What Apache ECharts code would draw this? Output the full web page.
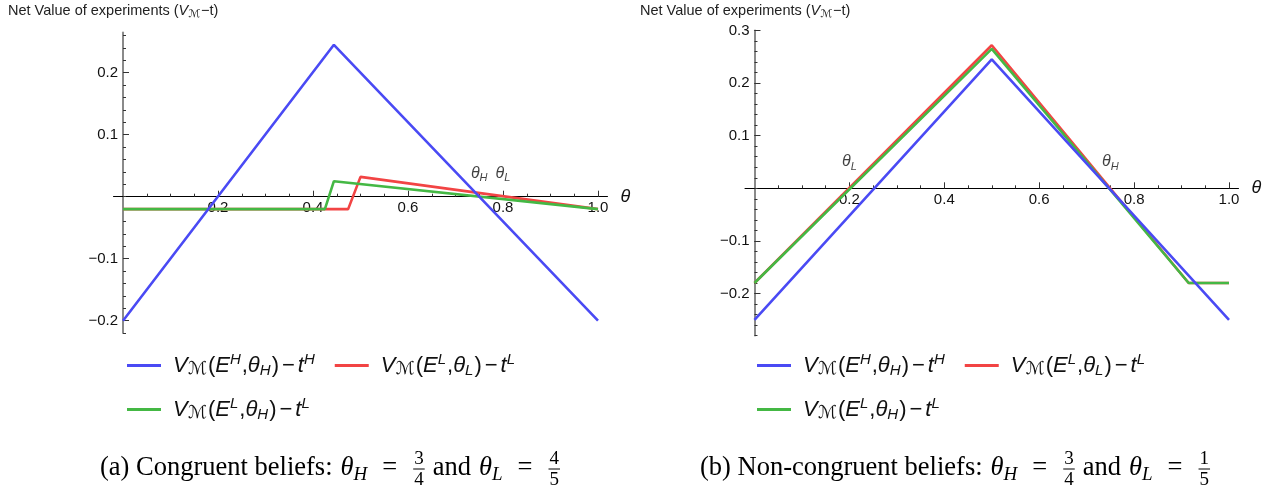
<!DOCTYPE html>
<html>
<head>
<meta charset="utf-8">
<script src="https://cdn.jsdelivr.net/npm/echarts@6/dist/echarts.min.js"></script>
<style>
  html, body { margin: 0; padding: 0; background: #fff; }
  #container { width: 1278px; height: 496px; }
</style>
</head>
<body>
<div id="container"></div>
<script>
// ---- data: [theta, net value] ----
// (a) congruent beliefs
var blueA = [[0, -0.2], [0.444, 0.245], [1.0, -0.2]];
var redA = [[0, -0.02], [0.474, -0.02], [0.5, 0.032], [1.0, -0.02]];
var greenA = [[0, -0.02], [0.425, -0.02], [0.444, 0.025], [1.0, -0.02]];
// (b) non-congruent beliefs
var blueB = [[0, -0.25], [0.5, 0.245], [1.0, -0.25]];
var redB = [[0, -0.18], [0.5, 0.272], [0.915, -0.18], [1.0, -0.18]];
var greenB = [[0, -0.18], [0.5, 0.265], [0.915, -0.18], [1.0, -0.18]];

// theta_H / theta_L markers on the plots
var marksA = [[0.75, 0.038, 'H'], [0.8, 0.038, 'L']];
var marksB = [[0.2, 0.05, 'L'], [0.75, 0.05, 'H']];

// tick labels
var xTicks = [0.2, 0.4, 0.6, 0.8, 1.0];
var yTicksA = [-0.2, -0.1, 0.1, 0.2];
var yTicksB = [-0.2, -0.1, 0.1, 0.2, 0.3];

var SANS = '"Liberation Sans", Arial, sans-serif';
var SERIF = '"Liberation Serif", "Times New Roman", serif';
var BLUE = '#4a4af4', RED = '#f24444', GREEN = '#44b844';

// plot boxes (pixels per unit, value ranges)
var X_MIN = -0.02, X_MAX = 1.02;
var boxA = { left: 113.5, width: 494, zeroY: 196.7, pxY: 620, yMin: -0.22, yMax: 0.265 };
var boxB = { left: 745, width: 493.5, zeroY: 188.3, pxY: 526, yMin: -0.28, yMax: 0.3 };

function stepTicks(from, to, step) {
  var out = [];
  for (var k = Math.ceil(from / step - 1e-9); k * step <= to + 1e-9; k++) {
    out.push(+(k * step).toFixed(4));
  }
  return out;
}

function fmtTick(v) {
  var s = Math.abs(v).toFixed(1);
  return v < 0 ? '\u2212' + s : s;
}

var dom = document.getElementById('container');
var myChart = echarts.init(dom);

function mathRich(size, small) {
  var base = { fontFamily: SANS, fontSize: size, lineHeight: 26, color: '#111', fontWeight: 'normal' };
  function st(o) { return Object.assign({}, base, o); }
  return {
    v: st({ fontStyle: 'italic' }),
    v0: st({ fontStyle: 'italic', padding: [0, 0, 0, 7] }),
    r: st({}),
    m: st({ padding: [0, 3, 0, 3] }),
    sup: st({ fontStyle: 'italic', fontSize: small, lineHeight: 14, padding: [0, 1, 12, 0] }),
    sub: st({ fontStyle: 'italic', fontSize: small, lineHeight: 14, padding: [10, 1, 0, 0] }),
    scr: st({ fontFamily: '"DejaVu Sans", sans-serif', fontSize: 18, lineHeight: 18, padding: [8, 1, 0, 0] })
  };
}

var legendText = {
  blueH: '{v0|V}{scr|\u2133}{r|(}{v|E}{sup|H}{r|,}{v|\u03b8}{sub|H}{r|)}{m|\u2212}{v|t}{sup|H}',
  redL: '{v0|V}{scr|\u2133}{r|(}{v|E}{sup|L}{r|,}{v|\u03b8}{sub|L}{r|)}{m|\u2212}{v|t}{sup|L}',
  greenH: '{v0|V}{scr|\u2133}{r|(}{v|E}{sup|L}{r|,}{v|\u03b8}{sub|H}{r|)}{m|\u2212}{v|t}{sup|L}'
};

function makeLegend(left, top, names) {
  return {
    left: left, top: top, orient: 'horizontal', icon: 'rect',
    itemWidth: 34, itemHeight: 3, itemGap: 19, padding: 0,
    data: names, selectedMode: false,
    formatter: function (n) { return legendText[n]; },
    textStyle: { rich: mathRich(22, 15) }
  };
}

// axes are shifted onto the zero lines with offsets so labels follow them
function xAxes(grid, box) {
  var off = -(0 - box.yMin) * box.pxY;
  return [{
    gridIndex: grid, type: 'value', min: X_MIN, max: X_MAX, position: 'bottom', offset: off,
    axisLine: { onZero: false, lineStyle: { color: '#000', width: 1 } },
    axisTick: { customValues: xTicks, inside: true, length: 6, lineStyle: { color: '#333' } },
    axisLabel: { customValues: xTicks, formatter: fmtTick, margin: 4, fontFamily: SANS, fontSize: 15, color: '#111' },
    splitLine: { show: false },
    name: '\u03b8', nameLocation: 'end', nameGap: 13,
    nameTextStyle: { fontFamily: SANS, fontStyle: 'italic', fontSize: 18, color: '#111' }
  }, {
    gridIndex: grid, type: 'value', min: X_MIN, max: X_MAX, position: 'bottom', offset: off,
    axisLine: { show: false, onZero: false },
    axisTick: { customValues: stepTicks(0.05, 1.0, 0.05), inside: true, length: 3, lineStyle: { color: '#333' } },
    axisLabel: { show: false },
    splitLine: { show: false }
  }];
}

function yAxes(grid, box, major) {
  var off = -(0 - X_MIN) * box.width / (X_MAX - X_MIN);
  return [{
    gridIndex: grid, type: 'value', min: box.yMin, max: box.yMax, position: 'left', offset: off,
    axisLine: { onZero: false, lineStyle: { color: '#8a8a8a', width: 2 } },
    axisTick: { customValues: major, inside: true, length: 6, lineStyle: { color: '#333' } },
    axisLabel: { customValues: major, formatter: fmtTick, margin: 5, fontFamily: SANS, fontSize: 15, color: '#111' },
    splitLine: { show: false }
  }, {
    gridIndex: grid, type: 'value', min: box.yMin, max: box.yMax, position: 'left', offset: off,
    axisLine: { show: false, onZero: false },
    axisTick: { customValues: stepTicks(box.yMin, box.yMax, 0.02), inside: true, length: 3, lineStyle: { color: '#333' } },
    axisLabel: { show: false },
    splitLine: { show: false }
  }];
}

function gridOf(box) {
  return {
    left: box.left, width: box.width,
    top: box.zeroY - box.yMax * box.pxY,
    height: (box.yMax - box.yMin) * box.pxY
  };
}

function lineSeries(name, color, data, ax) {
  return {
    type: 'line', name: name, data: data, xAxisIndex: ax, yAxisIndex: ax,
    showSymbol: false, symbol: 'none', silent: true, animation: false,
    lineStyle: { color: color, width: 2.6 }, itemStyle: { color: color }
  };
}

function markSeries(data, ax) {
  return {
    type: 'scatter', data: data, xAxisIndex: ax, yAxisIndex: ax,
    symbolSize: 1, itemStyle: { color: 'rgba(0,0,0,0)' }, silent: true, animation: false,
    label: {
      show: true, position: 'inside',
      formatter: function (p) { return '{t|\u03b8}{s|' + p.value[2] + '}'; },
      rich: {
        t: { fontFamily: SANS, fontStyle: 'italic', fontSize: 16, color: '#111', lineHeight: 20 },
        s: { fontFamily: SANS, fontStyle: 'italic', fontSize: 11, color: '#111', lineHeight: 11, padding: [9, 0, 0, 0] }
      }
    }
  };
}

// ---- captions (serif, with stacked fractions) ----
var capSize = 26.5;
var fracSize = 19;
var measureCtx = document.createElement('canvas').getContext('2d');
function measure(str, size, italic) {
  measureCtx.font = (italic ? 'italic ' : '') + size + 'px ' + SERIF;
  return measureCtx.measureText(str).width;
}
function txt(x, y, s, size, italic, align) {
  return {
    type: 'text', x: x, y: y, silent: true,
    style: {
      text: s, fontFamily: SERIF, fontSize: size, fontStyle: italic ? 'italic' : 'normal',
      fill: '#000', align: align || 'left', textAlign: align || 'left',
      verticalAlign: 'middle', textVerticalAlign: 'middle'
    }
  };
}
function caption(x, y, parts) {
  var els = [];
  parts.forEach(function (p) {
    if (p.gap) { x += p.gap; return; }
    if (p.rm != null) {
      els.push(txt(x, y, p.rm, capSize, false));
      x += measure(p.rm, capSize, false);
    } else if (p.it) {
      els.push(txt(x, y, p.it, capSize, true));
      x += measure(p.it, capSize, true);
      els.push(txt(x, y + 7, p.sub, 19, true));
      x += measure(p.sub, 19, true);
    } else if (p.num) {
      var w = Math.max(measure(p.num, fracSize), measure(p.den, fracSize)) + 2;
      els.push(txt(x + w / 2, y - 9, p.num, fracSize, false, 'center'));
      els.push({ type: 'line', silent: true, shape: { x1: x, y1: y + 1, x2: x + w, y2: y + 1 }, style: { stroke: '#000', lineWidth: 1 } });
      els.push(txt(x + w / 2, y + 12, p.den, fracSize, false, 'center'));
      x += w;
    }
  });
  return els;
}

var capA = caption(100, 468, [
  { rm: '(a) Congruent beliefs:' }, { gap: 8 }, { it: '\u03b8', sub: 'H' }, { gap: 15 },
  { rm: '=' }, { gap: 16 }, { num: '3', den: '4' }, { gap: 8 }, { rm: 'and' }, { gap: 8 },
  { it: '\u03b8', sub: 'L' }, { gap: 15 }, { rm: '=' }, { gap: 16 }, { num: '4', den: '5' }
]);
var capB = caption(700, 468, [
  { rm: '(b) Non-congruent beliefs:' }, { gap: 8 }, { it: '\u03b8', sub: 'H' }, { gap: 15 },
  { rm: '=' }, { gap: 16 }, { num: '3', den: '4' }, { gap: 8 }, { rm: 'and' }, { gap: 8 },
  { it: '\u03b8', sub: 'L' }, { gap: 15 }, { rm: '=' }, { gap: 16 }, { num: '1', den: '5' }
]);

var titleText = '{r|Net Value of experiments (}{v|V}{s|\u2133}{r|\u2212t)}';
var titleRich = {
  r: { fontFamily: SANS, fontSize: 14.5, fontWeight: 'normal', color: '#222', lineHeight: 18 },
  v: { fontFamily: SANS, fontSize: 14.5, fontWeight: 'normal', fontStyle: 'italic', color: '#222', lineHeight: 18 },
  s: { fontFamily: '"DejaVu Sans", sans-serif', fontSize: 11, fontWeight: 'normal', color: '#222', lineHeight: 11, padding: [6, 1, 0, 0] }
};

option = {
  backgroundColor: '#fff',
  animation: false,
  title: [
    { left: 8, top: 2, text: titleText, padding: 0, textStyle: { fontWeight: 'normal', rich: titleRich } },
    { left: 640, top: 2, text: titleText, padding: 0, textStyle: { fontWeight: 'normal', rich: titleRich } }
  ],
  legend: [
    makeLegend(127, 352, ['blueH', 'redL']),
    makeLegend(127, 396, ['greenH']),
    makeLegend(757, 352, ['blueH', 'redL']),
    makeLegend(757, 396, ['greenH'])
  ],
  grid: [gridOf(boxA), gridOf(boxB)],
  xAxis: xAxes(0, boxA).concat(xAxes(1, boxB)),
  yAxis: yAxes(0, boxA, yTicksA).concat(yAxes(1, boxB, yTicksB)),
  series: [
    lineSeries('redL', RED, redA, 0),
    lineSeries('greenH', GREEN, greenA, 0),
    lineSeries('blueH', BLUE, blueA, 0),
    markSeries(marksA, 0),
    lineSeries('redL', RED, redB, 2),
    lineSeries('greenH', GREEN, greenB, 2),
    lineSeries('blueH', BLUE, blueB, 2),
    markSeries(marksB, 2)
  ],
  graphic: capA.concat(capB)
};

if (option && typeof option === 'object') {
  myChart.setOption(option, true);
}
</script>
</body>
</html>
